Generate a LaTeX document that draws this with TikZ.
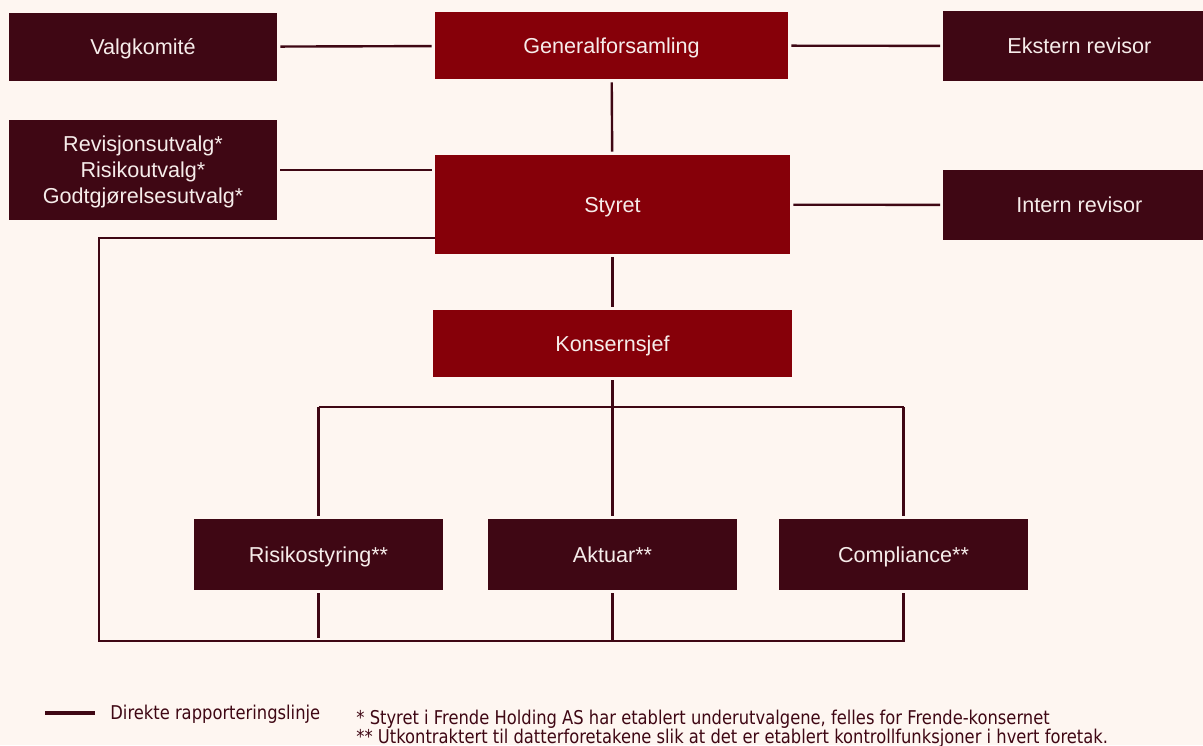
\documentclass[tikz,border=0pt]{standalone}
\usepackage{fontspec}
\setmainfont{Liberation Sans}
\newfontfamily\notefont[FakeStretch=0.86]{DejaVu Sans}
\usetikzlibrary{positioning}

\definecolor{frbg}{HTML}{FEF6F1}
\definecolor{frdark}{HTML}{3F0714}
\definecolor{frred}{HTML}{860009}
\definecolor{frtext}{HTML}{F6ECEA}

\tikzset{
  orgbox/.style={rectangle,fill=frdark,text=frtext,align=center,
    font=\fontsize{10.8pt}{13pt}\selectfont,inner sep=0pt,text depth=0pt},
  topbox/.style={orgbox,fill=frred},
  link/.style={draw=frdark,line width=1.2pt,shorten <=1.5pt,shorten >=1.5pt},
  loopline/.style={draw=frdark,line width=1.2pt},
  notetext/.style={anchor=west,text=frdark,inner sep=0pt,
    font=\notefont\fontsize{9.5pt}{11pt}\selectfont}
}

\begin{document}
\begin{tikzpicture}[x=0.5pt,y=-0.5pt]

  % bakgrunn
  \fill[frbg] (0,0) rectangle (1203,745);
  \clip (0,0) rectangle (1203,745);

  % ledelse og styre
  \node[topbox,minimum width=176.5pt,minimum height=33.5pt] (gen) at (611.5,45.5) {Generalforsamling};
  \node[topbox,minimum width=177.5pt,minimum height=49.5pt] (styret) at (612.5,204.5) {Styret};
  \node[topbox,minimum width=179.5pt,minimum height=33.5pt] (sjef) at (612.5,343.5) {Konsernsjef};

  % sidebokser
  \node[orgbox,minimum width=134pt,minimum height=34pt] (valg) at (143,47) {Valgkomité};
  \node[orgbox,minimum width=134pt,minimum height=50pt] (utvalg) at (143,170)
    {Revisjonsutvalg*\\Risikoutvalg*\\Godtgjørelsesutvalg*};
  \node[orgbox,minimum width=136pt,minimum height=35pt,anchor=west] (ekstern) at (943,46) {Ekstern revisor};
  \node[orgbox,minimum width=136pt,minimum height=35pt,anchor=west] (intern) at (943,205) {Intern revisor};

  % kontrollfunksjoner
  \node[orgbox,minimum width=124.5pt,minimum height=35.5pt] (risiko) at (318.5,554.5) {Risikostyring**};
  \node[orgbox,minimum width=124.5pt,minimum height=35.5pt] (aktuar) at (612.5,554.5) {Aktuar**};
  \node[orgbox,minimum width=124.5pt,minimum height=35.5pt] (compl) at (903.5,554.5) {Compliance**};

  % rapporteringslinjer
  \draw[link] (valg) -- (gen);
  \draw[link] (gen) -- (ekstern);
  \draw[link] (gen) -- (styret);
  \draw[link] (utvalg) -- (utvalg -| styret.west);
  \draw[link] (styret) -- (intern);
  \draw[link] (styret) -- (sjef);

  % forgrening under konsernsjef
  \coordinate (fork) at (612.5,407);
  \draw[link,shorten >=0pt] (sjef) -- (fork);
  \draw[loopline] (risiko.north |- fork) -- (compl.north |- fork);
  \draw[link,shorten <=0pt] (risiko.north |- fork) -- (risiko);
  \draw[link,shorten <=0pt] (fork) -- (aktuar);
  \draw[link,shorten <=0pt] (compl.north |- fork) -- (compl);

  % direkte linje fra styret
  \coordinate (loopA) at (99,238);
  \coordinate (loopB) at (99,641);
  \draw[loopline] (styret.west |- loopA) -- (loopA) -- (loopB)
    -- (loopB -| compl) -- ([yshift=-1.5pt]compl.south);
  \draw[loopline] ([yshift=-1.5pt]risiko.south) -- ++(0,45);
  \draw[loopline] ([yshift=-1.5pt]aktuar.south) -- (aktuar |- loopB);

  % forklaring
  \coordinate (legA) at (45,713);
  \coordinate (legB) at (95,713);
  \draw[draw=frdark,line width=2.4pt] (legA) -- (legB);
  \node[notetext] (legtext) at (110,714) {Direkte rapporteringslinje};
  \node[notetext] (note1) at (356,719)
    {* Styret i Frende Holding AS har etablert underutvalgene, felles for Frende-konsernet};
  \node[notetext] (note2) at (356,738)
    {** Utkontraktert til datterforetakene slik at det er etablert kontrollfunksjoner i hvert foretak.};

\end{tikzpicture}
\end{document}
